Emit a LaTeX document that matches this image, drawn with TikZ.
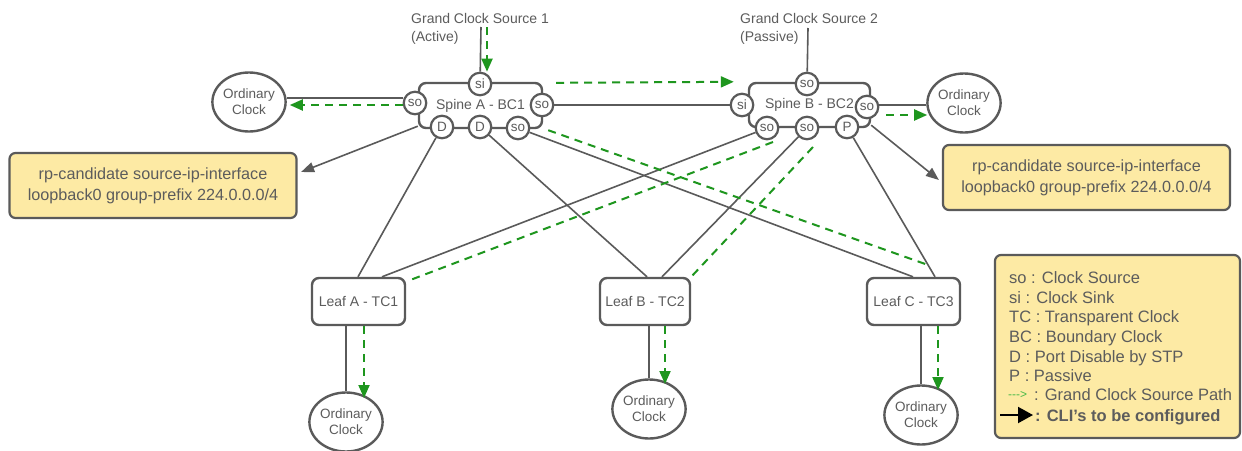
\documentclass[tikz,border=0pt]{standalone}
\usepackage{fontspec}
\setmainfont{Liberation Sans}
\usetikzlibrary{arrows.meta,shapes.geometric}
\definecolor{edge}{RGB}{90,90,90}
\definecolor{ink}{RGB}{92,92,92}
\definecolor{gmpath}{RGB}{30,150,30}
\definecolor{gmlight}{RGB}{70,185,70}
\definecolor{note}{RGB}{253,234,164}

\begin{document}
\begin{tikzpicture}[x=1pt,y=-1pt,
  every node/.style={text=ink},
  device/.style={draw=edge, line width=2.4pt, rounded corners=7pt, fill=white,
    inner sep=0pt, font=\fontsize{14}{16}\selectfont},
  port/.style={circle, draw=edge, line width=2.2pt, fill=white, minimum size=22.5pt,
    inner sep=0pt, font=\fontsize{13.5}{13.5}\selectfont},
  clock/.style={ellipse, draw=edge, line width=2.4pt, fill=white, minimum width=65pt,
    minimum height=59pt, inner sep=0pt, align=center, font=\fontsize{13.5}{16}\selectfont},
  wire/.style={draw=edge, line width=1.6pt},
  gpath/.style={draw=gmpath, line width=2pt, dash pattern=on 8pt off 6pt},
  garrow/.style={gpath, -{Triangle[length=13pt,width=11pt]}},
  cli/.style={draw=edge, line width=1.6pt, -{Triangle[length=13pt,width=10pt]}},
  notebox/.style={draw=edge, line width=2.2pt, rounded corners=6pt, fill=note,
    minimum width=287pt, minimum height=65pt, align=center,
    font=\fontsize{16.2}{21}\selectfont},
  keytext/.style={anchor=base west, inner sep=0pt, font=\fontsize{16.5}{19}\selectfont},
  srclabel/.style={anchor=north west, inner sep=0pt, align=left, font=\fontsize{14}{18}\selectfont}
]
% canvas
\fill[white] (0,0) rectangle (1242,450);
\useasboundingbox (0,0) rectangle (1242,450);

% grand clock sources
\node[srclabel] (gcs1) at (411,13) {Grand Clock Source 1\\(Active)};
\node[srclabel] (gcs2) at (740,13) {Grand Clock Source 2\\(Passive)};
\coordinate (src1) at (481,27);
\coordinate (src1g) at (487,27);
\coordinate (src2) at (808,28);

% spine switches
\node[device, minimum width=123pt, minimum height=45pt] (spineA) at (480.5,105.5) {Spine A - BC1};
\node[device, minimum width=121pt, minimum height=44pt] (spineB) at (809.5,105) {Spine B - BC2};

% spine ports
\node[port] (siA)  at (480,84)  {si};
\node[port] (soAL) at (415,103) {so};
\node[port] (soAR) at (542,105) {so};
\node[port] (dA1)  at (442,127) {D};
\node[port] (dA2)  at (480,127) {D};
\node[port] (soAB) at (518,128) {so};
\node[port] (soBT) at (807,84)  {so};
\node[port] (siB)  at (742,105) {si};
\node[port] (soBR) at (867,107) {so};
\node[port] (soB1) at (767,128) {so};
\node[port] (soB2) at (807,128) {so};
\node[port] (pB)   at (847,127) {P};

% leaf switches
\node[device, minimum width=93pt, minimum height=47pt] (leafA) at (358.5,301.5) {Leaf A - TC1};
\node[device, minimum width=90pt, minimum height=47pt] (leafB) at (645,301.5) {Leaf B - TC2};
\node[device, minimum width=93pt, minimum height=47pt] (leafC) at (913.5,301.5) {Leaf C - TC3};

% ordinary clocks
\node[clock] (ocL) at (249,102) {Ordinary\\Clock};
\node[clock] (ocR) at (964,103) {Ordinary\\Clock};
\node[clock] (ocA) at (346,422) {Ordinary\\Clock};
\node[clock] (ocB) at (649,409) {Ordinary\\Clock};
\node[clock] (ocC) at (921,415) {Ordinary\\Clock};

% configuration notes
\node[notebox] (noteL) at (153,185.5) {rp-candidate source-ip-interface\\loopback0 group-prefix 224.0.0.0/4};
\node[notebox] (noteR) at (1086.5,177.5) {rp-candidate source-ip-interface\\loopback0 group-prefix 224.0.0.0/4};

% physical links
\draw[wire] (src1) -- (siA);
\draw[wire] (src2) -- (soBT);
\draw[wire] (soAR) -- (siB);
\draw[wire] ([yshift=5pt]soAL.west) -- ([yshift=4pt]ocL.east);
\draw[wire] ([yshift=2pt]soBR.east) -- ([yshift=-2pt]ocR.west);
\draw[wire] (dA1) -- ([xshift=-0.5pt]leafA.north);
\draw[wire] (dA2) -- ([xshift=2pt]leafB.north);
\draw[wire] (soAB) -- ([xshift=-0.5pt]leafC.north);
\draw[wire] (soB1) -- ([xshift=23.5pt]leafA.north);
\draw[wire] (soB2) -- ([xshift=17pt]leafB.north);
\draw[wire] (pB) -- ([xshift=21.5pt]leafC.north);
\draw[wire] (ocA.north |- leafA.south) -- (ocA.north);
\draw[wire] (ocB.north |- leafB.south) -- (ocB.north);
\draw[wire] (ocC.north |- leafC.south) -- (ocC.north);

% CLI pointers
\draw[cli] ([yshift=3pt]spineA.south west) -- ([xshift=3.5pt,yshift=13.5pt]noteL.east);
\draw[cli] ([yshift=3pt]spineB.south east) -- ([xshift=-3pt,yshift=-2.5pt]noteR.west);

% grand clock source path
\draw[garrow] (src1g) -- (src1g |- siA.north);
\draw[garrow] ([xshift=13pt,yshift=-1pt]spineA.north east) -- ([xshift=-14pt]spineB.north west);
\draw[garrow] ([yshift=-2pt]soAL.west) -- ([xshift=3pt,yshift=-3pt]ocL.east);
\draw[garrow] ([xshift=7pt,yshift=-8pt]soBR.east) -- ([xshift=1pt,yshift=-12pt]ocR.west);
\draw[gpath] ([xshift=5pt,yshift=-1pt]spineA.south east) -- ([xshift=14pt,yshift=12pt]leafC.north);
\draw[gpath] ([xshift=6pt,yshift=-14pt]soB1.center) -- ([xshift=2pt,yshift=-4pt]leafA.north east);
\draw[gpath] ([xshift=6pt,yshift=-19pt]soB2.center) -- (leafB.north east);
\draw[garrow] ([xshift=5.5pt]leafA.south) -- ([xshift=18pt,yshift=24pt]ocA.center);
\draw[garrow] ([xshift=20pt]leafB.south) -- ([xshift=16pt,yshift=25pt]ocB.center);
\draw[garrow] ([xshift=24.5pt]leafC.south) -- ([xshift=17pt,yshift=25pt]ocC.center);

% legend
\node[draw=edge, line width=2.2pt, rounded corners=6pt, fill=note,
      minimum width=245pt, minimum height=183pt] (legend) at (1117.5,346.5) {};
\node[keytext] (lg1) at (1009,283) {so : Clock Source};
\node[keytext] (lg2) at (1009,303) {si : Clock Sink};
\node[keytext] (lg3) at (1009,322) {TC : Transparent Clock};
\node[keytext] (lg4) at (1009,342) {BC : Boundary Clock};
\node[keytext] (lg5) at (1009,362) {D : Port Disable by STP};
\node[keytext] (lg6) at (1009,381) {P : Passive};
\node[keytext, text=gmlight, font=\fontsize{12}{12}\selectfont] (lg7a) at (1008,398)
  {\mbox{-}\mbox{-}\mbox{-}\mbox{>}};
\node[keytext] (lg7) at (1034,400) {: Grand Clock Source Path};
\coordinate (key1) at (1000,415);
\coordinate (key2) at (1033,415);
\draw[black, line width=2pt, -{Triangle[length=15pt,width=16pt]}] (key1) -- (key2);
\node[keytext, font=\fontsize{16.5}{19}\selectfont\bfseries] (lg8) at (1035,421) {: CLI's to be configured};
\end{tikzpicture}
\end{document}
